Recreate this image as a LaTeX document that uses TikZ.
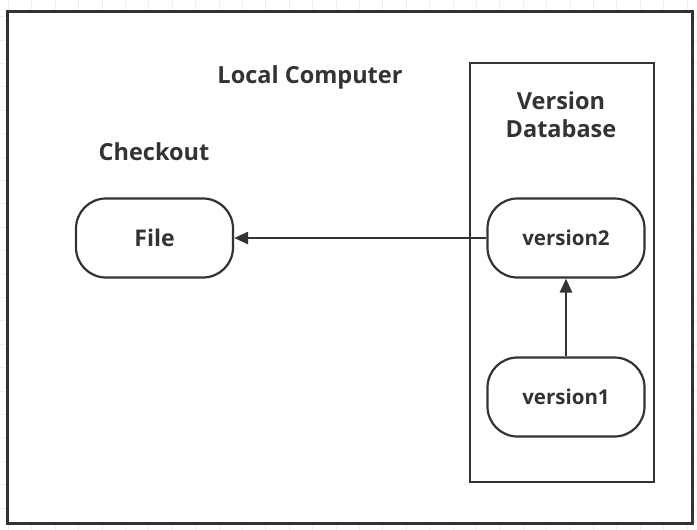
\documentclass[tikz,border=0pt]{standalone}
\usepackage{fontspec}
\setmainfont{Open Sans}
\usetikzlibrary{arrows.meta}
\definecolor{ink}{HTML}{333333}
\definecolor{gridc}{HTML}{EFEFEF}
\tikzset{
  pill/.style={draw=ink, line width=2.2pt, rounded corners=30pt, fill=white,
    minimum width=157pt, minimum height=79pt, inner sep=0pt,
    font=\bfseries\fontsize{20.5}{24}\selectfont, text=ink},
  lbl/.style={font=\bfseries\fontsize{23.5}{28}\selectfont, text=ink, align=center, inner sep=0pt},
  conn/.style={draw=ink, line width=2.6pt, -{Triangle[length=14pt,width=12pt]}},
}
\begin{document}
\begin{tikzpicture}[x=1pt,y=-1pt]
\useasboundingbox (0,0) rectangle (697,530);
\fill[white] (0,0) rectangle (697,530);
% faint grid
\foreach \i in {0,...,29} {
  \draw[gridc, line width=0.6pt] ({8.3+23.4*\i},0) -- ({8.3+23.4*\i},530);
}
\foreach \j in {0,...,22} {
  \draw[gridc, line width=0.6pt] (0,{16.5+23.4*\j}) -- (697,{16.5+23.4*\j});
}
% outer frame
\draw[ink, line width=3pt, fill=white] (7,11) rectangle (692,523);
% inner frame
\draw[ink, line width=2.6pt] (470,63) rectangle (654,482);
% labels
\node[lbl] (local) at (310,77) {Local Computer};
\node[lbl] (checkout) at (154,152) {Checkout};
\node[lbl] (vdb) at (561,115) {Version\\Database};
% nodes
\node[pill, font=\bfseries\fontsize{23}{26}\selectfont] (file) at (154.5,238) {File};
\node[pill] (v2) at (566,238) {version2};
\node[pill] (v1) at (566,397) {version1};
% connectors
\draw[conn] (v2) -- (file);
\draw[conn] (v1) -- (v2);
\end{tikzpicture}
\end{document}
